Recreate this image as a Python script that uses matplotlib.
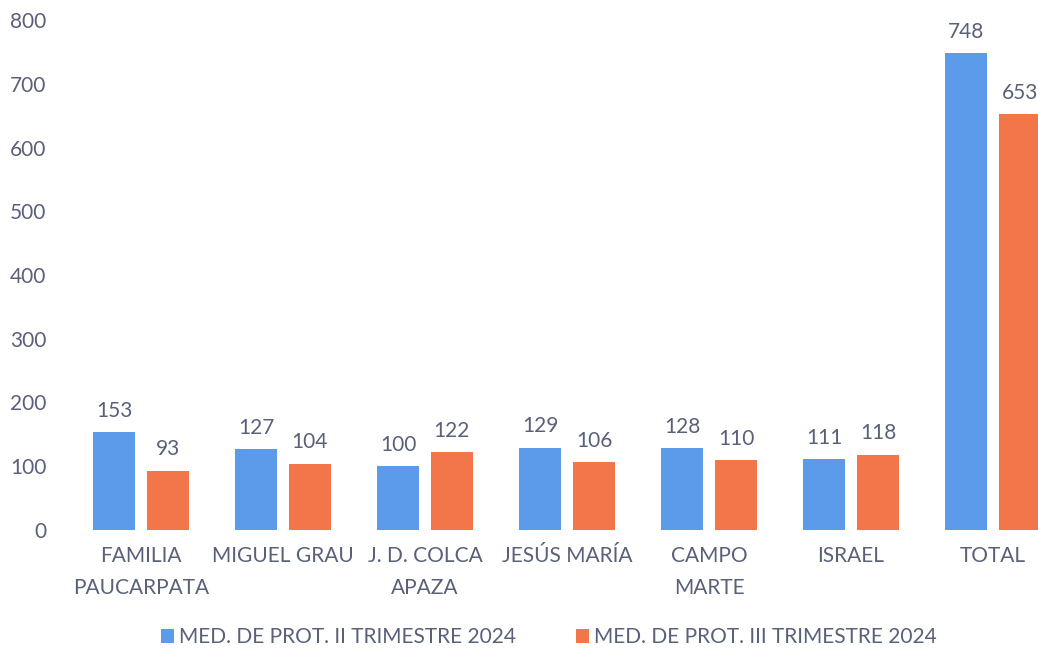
import numpy as np
import matplotlib.pyplot as plt

categories = ["FAMILIA\nPAUCARPATA", "MIGUEL GRAU", "J. D. COLCA\nAPAZA", "JESÚS MARÍA",
              "CAMPO\nMARTE", "ISRAEL", "TOTAL"]
trimestre_ii = [153, 127, 100, 129, 128, 111, 748]
trimestre_iii = [93, 104, 122, 106, 110, 118, 653]
series_names = ["MED. DE PROT. II TRIMESTRE 2024", "MED. DE PROT. III TRIMESTRE 2024"]
y_ticks = [0, 100, 200, 300, 400, 500, 600, 700, 800]

text_color = "#5a6078"
blue = "#5b9bea"
orange = "#f2764a"

plt.rcParams["font.family"] = ["Lato", "DejaVu Sans"]

fig = plt.figure(figsize=(10.38, 6.54), dpi=100)
# the scanned chart is cut off on the right, so the axes run to the edge
ax = fig.add_axes([0.0674, 0.19, 0.9326, 0.779])

positions = np.arange(len(categories))
width = 0.30
offset = 0.19

bars_ii = ax.bar(positions - offset, trimestre_ii, width, color=blue, label=series_names[0])
bars_iii = ax.bar(positions + offset, trimestre_iii, width, color=orange, label=series_names[1])

for bars in [bars_ii, bars_iii]:
    for bar in bars:
        value = bar.get_height()
        ax.annotate(str(int(value)), (bar.get_x() + bar.get_width() / 2, value),
                    xytext=(0, 8), textcoords="offset points", ha="center", va="bottom",
                    fontsize=15, color=text_color, annotation_clip=False)

ax.set_xlim(-0.5, 6.317)
ax.set_ylim(0, 800)
ax.set_yticks(y_ticks)
ax.set_xticks(positions)
ax.set_xticklabels(categories, linespacing=1.75)
ax.tick_params(axis="both", length=0, colors=text_color, labelsize=15)
ax.tick_params(axis="y", pad=17)
ax.tick_params(axis="x", pad=12)

for spine in ax.spines.values():
    spine.set_visible(False)

ax.legend(loc="upper center", bbox_to_anchor=(0.495, -0.155), ncol=2, frameon=False,
          fontsize=15, labelcolor=text_color, handlelength=0.6, handleheight=0.6,
          handletextpad=0.25, columnspacing=2.9)

fig.savefig("out.png", dpi=100)
